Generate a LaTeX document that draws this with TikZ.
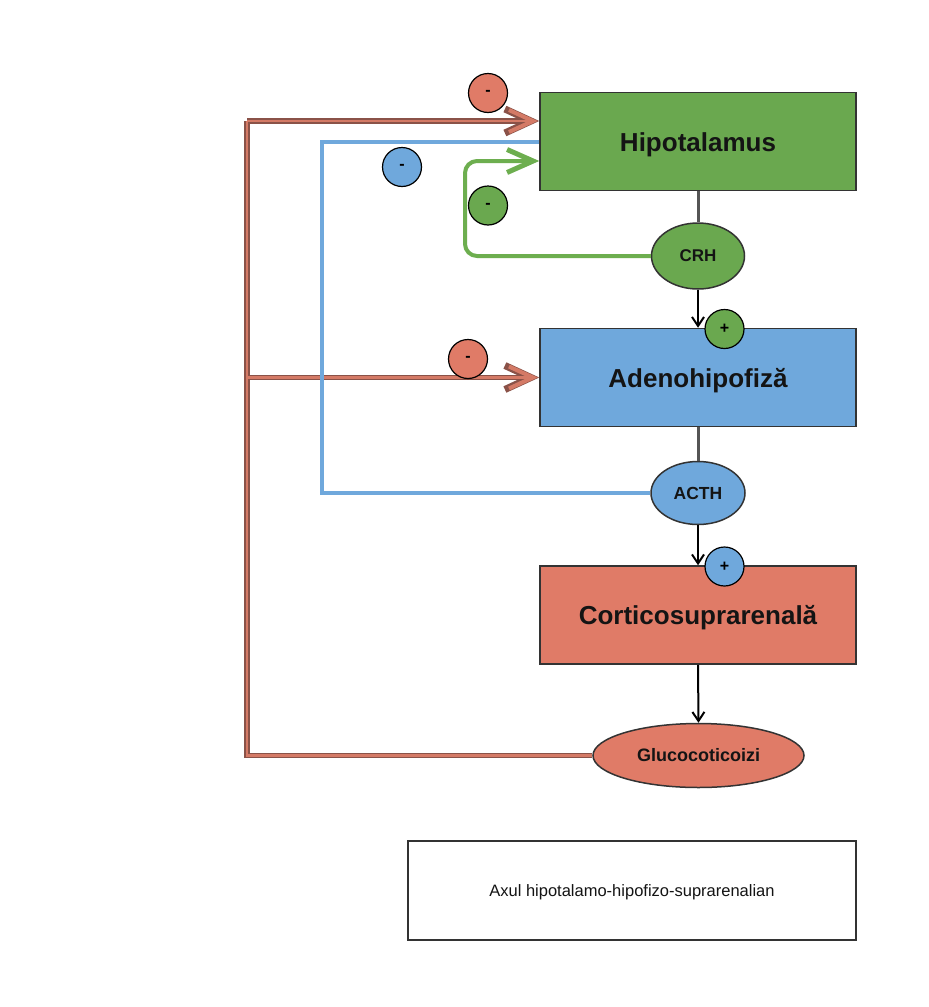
\documentclass[tikz,border=0pt]{standalone}
\usepackage{fontspec}
\setmainfont{Liberation Sans}
\usetikzlibrary{arrows.meta,shapes.geometric}
\definecolor{hgreen}{HTML}{6AA84F}
\definecolor{hgreenln}{HTML}{6DAE4F}
\definecolor{hblue}{HTML}{6FA8DC}
\definecolor{hsalmon}{HTML}{E07B67}
\definecolor{hbrown}{HTML}{8A5248}
\definecolor{hbrownin}{HTML}{D47A66}
\definecolor{hgray}{HTML}{555555}
\definecolor{hborder}{HTML}{333333}
\definecolor{htext}{HTML}{141414}
\begin{document}
\begin{tikzpicture}[x=1pt,y=-1pt,
  organ/.style={draw=hborder, line width=1.5pt, minimum width=316pt, minimum height=98pt,
    inner sep=0pt, text=htext, text height=19pt, text depth=0pt,
    font=\fontsize{26}{30}\selectfont\bfseries},
  hormone/.style={ellipse, draw=hborder, line width=1.5pt, inner sep=0pt, text=htext},
  sign/.style={circle, draw=black, line width=1.2pt, minimum size=39pt, inner sep=0pt,
    font=\fontsize{16}{16}\selectfont\bfseries},
  link/.style={draw=hgray, line width=3pt},
  flow/.style={draw=black, line width=2pt, -{Straight Barb[length=9pt,width=12pt]}},
  brownout/.style={draw=hbrown, line width=5.5pt},
  brownin/.style={draw=hbrownin, line width=2.5pt},
  brownouttip/.style={brownout, -{Straight Barb[length=26pt,width=24pt,line width=7pt]}},
  browninttip/.style={brownin, -{Straight Barb[length=24pt,width=22pt,line width=4pt]}},
  bline/.style={draw=hblue, line width=4pt},
  gline/.style={draw=hgreenln, line width=4pt, rounded corners=12pt,
    -{Straight Barb[length=26pt,width=23pt,line width=5pt]}},
]
\useasboundingbox (0,0) rectangle (929,1007);
\fill[white] (0,0) rectangle (929,1007);

% organs
\node[organ, fill=hgreen] (hipo) at (698,141.5) {Hipotalamus};
\node[organ, fill=hblue] (adeno) at (698,377.5) {Adenohipofiză};
\node[organ, fill=hsalmon] (cortico) at (698,615) {Corticosuprarenală};

% hormones
\node[hormone, fill=hgreen, minimum width=93pt, minimum height=66pt,
  font=\fontsize{17}{20}\selectfont\bfseries] (crh) at (698,256) {CRH};
\node[hormone, fill=hblue, minimum width=94pt, minimum height=63pt,
  font=\fontsize{17.5}{20}\selectfont\bfseries] (acth) at (698,493) {ACTH};
\node[hormone, fill=hsalmon, minimum width=211pt, minimum height=64pt,
  font=\fontsize{18}{20}\selectfont\bfseries] (gluco) at (698.5,755.5) {Glucocoticoizi};

% caption box
\node[draw=hborder, line width=1.5pt, minimum width=448pt, minimum height=99pt, inner sep=0pt,
  text=htext, text height=12pt, text depth=0pt, font=\fontsize{16.5}{20}\selectfont] (cap) at (632,890.5)
  {Axul hipotalamo-hipofizo-suprarenalian};

% corner points of the feedback loops
\coordinate (bl) at (247,755.5);
\coordinate (tl) at (247,121);
\coordinate (ml) at (247,377.5);
\coordinate (bluebot) at (322,493);
\coordinate (bluetop) at (322,141.5);
\coordinate (grbot) at (465,256);
\coordinate (grtop) at (465,161);
\coordinate (hipoA) at ([yshift=20.5pt]hipo.west);
\coordinate (hipoG) at ([yshift=-19.5pt]hipo.west);

% brown feedback (outline, then inner)
\draw[brownout] (gluco.west) -- (bl) -- (tl);
\draw[brownouttip] (tl) -- (hipoA);
\draw[brownouttip] (ml) -- (adeno.west);
\draw[brownin] (gluco.west) -- (bl) -- (tl);
\draw[browninttip] (tl) -- ([xshift=-1.5pt]hipoA);
\draw[browninttip] (ml) -- ([xshift=-1.5pt]adeno.west);

% blue feedback
\draw[bline] (acth.west) -- (bluebot) -- (bluetop) -- (hipo.west);

% green feedback
\draw[gline] (crh.west) -- (grbot) -- (grtop) -- (hipoG);

% main axis
\draw[link] (hipo.south) -- (crh.north);
\draw[link] (adeno.south) -- (acth.north);
\draw[flow] (crh.south) -- (adeno.north);
\draw[flow] (acth.south) -- (cortico.north);
\draw[flow] (cortico.south) -- (gluco.north);

% signs
\node[sign, fill=hgreen] (p1) at (724.5,329) {+};
\node[sign, fill=hblue] (p2) at (724.5,566.5) {+};
\node[sign, fill=hsalmon] (m1) at (488,93) {-};
\node[sign, fill=hblue] (m2) at (402,167) {-};
\node[sign, fill=hgreen] (m3) at (488,205.5) {-};
\node[sign, fill=hsalmon] (m4) at (468,359) {-};
\end{tikzpicture}
\end{document}
